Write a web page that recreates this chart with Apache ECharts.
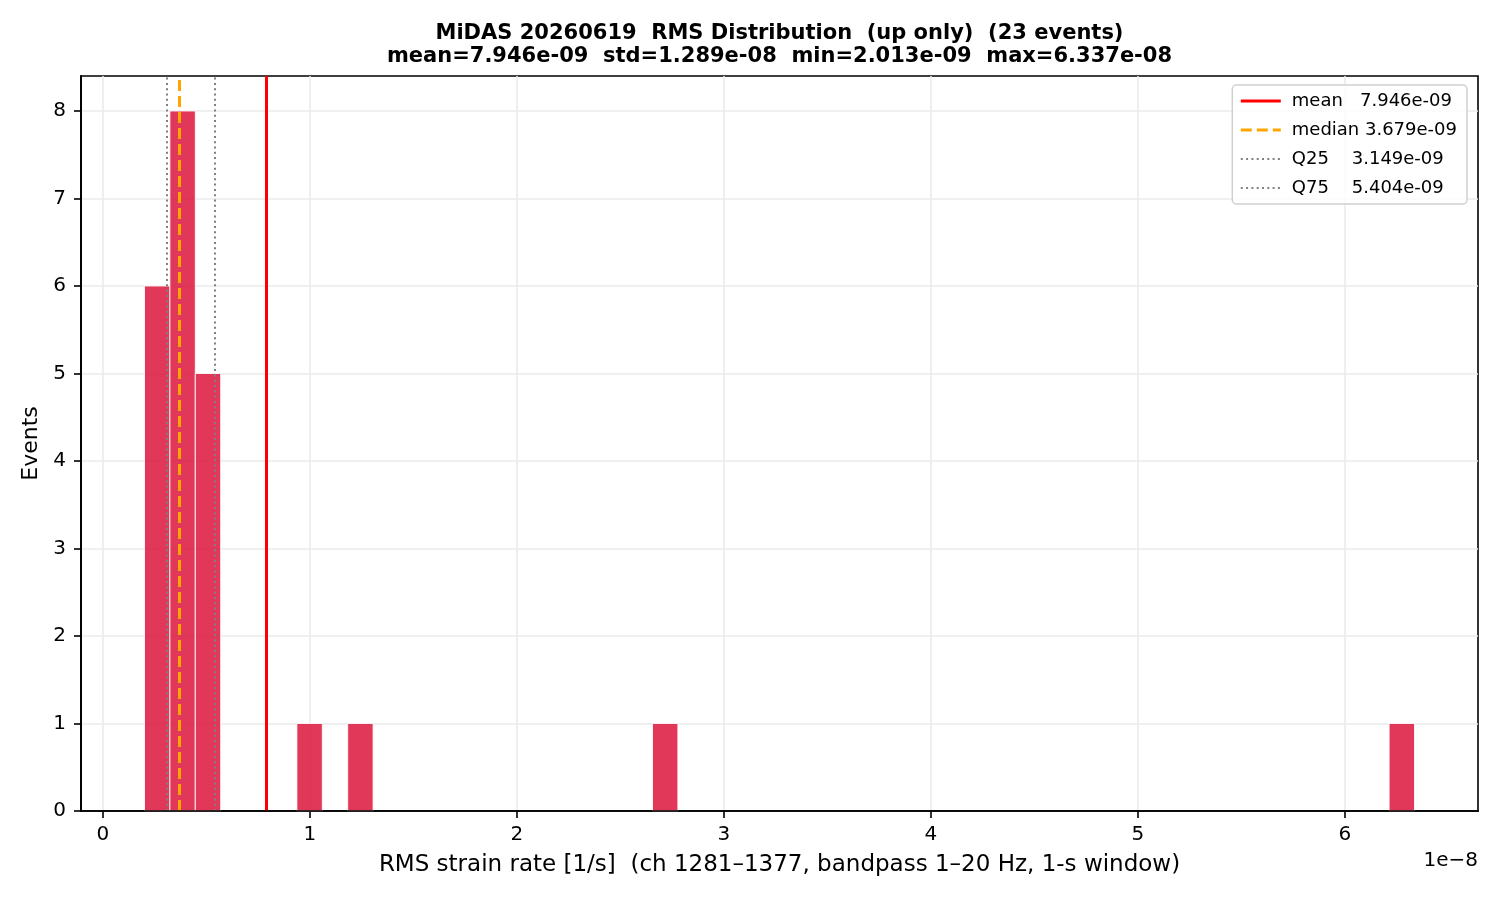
<!DOCTYPE html>
<html>
<head>
<meta charset="utf-8">
<script src="https://cdn.jsdelivr.net/npm/echarts@6/dist/echarts.min.js"></script>
<style>html,body{margin:0;padding:0;background:#fff}#c{width:1500px;height:900px}</style>
</head>
<body>
<div id="c"></div>
<script>
// ---- data ----
const binMin = 2.013e-9;
const binMax = 6.337e-8;
const binCounts = [6, 8, 5, 0, 0, 0, 1, 0, 1, 0,
                   0, 0, 0, 0, 0, 0, 0, 0, 0, 0,
                   1, 0, 0, 0, 0, 0, 0, 0, 0, 0,
                   0, 0, 0, 0, 0, 0, 0, 0, 0, 0,
                   0, 0, 0, 0, 0, 0, 0, 0, 0, 1];
const statNames = ['mean', 'median', 'Q25', 'Q75'];
const statValues = [7.946e-9, 3.679e-9, 3.149e-9, 5.404e-9];
const legendLabels = ['mean   7.946e-09', 'median 3.679e-09', 'Q25    3.149e-09', 'Q75    5.404e-09'];
const xTicks = [0, 1, 2, 3, 4, 5, 6];        // in units of 1e-8
const yTicks = [0, 1, 2, 3, 4, 5, 6, 7, 8];
const titleText = 'MiDAS 20260619  RMS Distribution  (up only)  (23 events)\nmean=7.946e-09  std=1.289e-08  min=2.013e-09  max=6.337e-08';
const xName = 'RMS strain rate [1/s]  (ch 1281\u20131377, bandpass 1\u201320 Hz, 1-s window)';
const yName = 'Events';
const offsetText = '1e\u22128';

// ---- build ----
const SCALE = 1e8;
const nb = binCounts.length;
const bw = (binMax - binMin) / nb;
const barData = [];
binCounts.forEach((c, i) => {
  if (c > 0) barData.push([(binMin + i * bw) * SCALE, (binMin + (i + 1) * bw) * SCALE, c]);
});
const span = (binMax - binMin);
const xMin = (binMin - 0.05 * span) * SCALE;
const xMax = (binMax + 0.05 * span) * SCALE;
const yMin = 0, yMax = 8.4;

const FONT = 'DejaVu Sans';
const lineStyles = [
  {color: '#ff0000', width: 3, type: 'solid'},
  {color: '#ffa500', width: 3, type: [11, 5]},
  {color: '#808080', width: 2, type: [2, 3.3]},
  {color: '#808080', width: 2, type: [2, 3.3]}
];

const series = [{
  type: 'custom',
  z: 1,
  renderItem: function (params, api) {
    const p0 = api.coord([api.value(0), api.value(2)]);
    const p1 = api.coord([api.value(1), 0]);
    return {
      type: 'rect',
      shape: {x: p0[0], y: p0[1], width: p1[0] - p0[0], height: p1[1] - p0[1]},
      style: {fill: 'rgba(220,20,60,0.85)', stroke: 'rgba(255,255,255,0.85)', lineWidth: 1}
    };
  },
  encode: {x: [0, 1], y: 2},
  data: barData
}];
statNames.forEach((n, i) => {
  series.push({
    type: 'line',
    name: legendLabels[i],
    z: 3,
    symbol: 'none',
    showSymbol: false,
    data: [],
    lineStyle: lineStyles[i],
    itemStyle: {color: lineStyles[i].color},
    markLine: {
      silent: true,
      symbol: 'none',
      label: {show: false},
      lineStyle: lineStyles[i],
      emphasis: {disabled: true},
      data: [{xAxis: statValues[i] * SCALE}]
    }
  });
});

const chart = echarts.init(document.getElementById('c'));
chart.setOption({
  animation: false,
  backgroundColor: '#fff',
  textStyle: {fontFamily: FONT},
  title: {
    text: titleText,
    left: 779.5,
    textAlign: 'center',
    top: 22,
    padding: 0,
    textStyle: {fontFamily: FONT, fontWeight: 'bold', fontSize: 21, lineHeight: 23, color: '#000'}
  },
  grid: {left: 81, right: 22, top: 76, bottom: 89, show: true, borderColor: '#000', borderWidth: 1.6, backgroundColor: 'transparent'},
  legend: {
    orient: 'vertical',
    right: 33,
    top: 85,
    padding: [6, 10, 6, 7],
    itemWidth: 40,
    itemHeight: 14,
    itemGap: 9,
    borderColor: '#d0d0d0',
    borderWidth: 1.5,
    borderRadius: 4,
    backgroundColor: 'rgba(255,255,255,0.8)',
    itemStyle: {opacity: 0},
    textStyle: {fontFamily: FONT, fontSize: 18, lineHeight: 20, color: '#000', padding: [0, 0, 0, 6]},
    data: legendLabels.map((l, i) => ({name: l, lineStyle: {width: lineStyles[i].width}}))
  },
  xAxis: [{
    type: 'value',
    min: xMin,
    max: xMax,
    z: 0,
    name: xName,
    nameLocation: 'middle',
    nameGap: 43,
    nameTextStyle: {fontFamily: FONT, fontSize: 23, color: '#000'},
    axisLine: {show: true, onZero: false, lineStyle: {color: '#000', width: 1.6}},
    axisTick: {show: true, length: 7, lineStyle: {color: '#000', width: 1.6}, customValues: xTicks},
    axisLabel: {fontFamily: FONT, fontSize: 20, color: '#000', margin: 14, customValues: xTicks},
    splitLine: {show: true, lineStyle: {color: '#ebebeb', width: 1.6}, customValues: xTicks}
  }, {
    type: 'value',
    min: xMin,
    max: xMax,
    position: 'bottom',
    z: 10,
    axisLine: {show: true, onZero: false, lineStyle: {color: '#000', width: 1.6}},
    axisTick: {show: false},
    axisLabel: {show: false},
    splitLine: {show: false}
  }],
  yAxis: [{
    type: 'value',
    min: yMin,
    max: yMax,
    z: 0,
    name: yName,
    nameLocation: 'middle',
    nameGap: 35,
    nameTextStyle: {fontFamily: FONT, fontSize: 22, color: '#000'},
    axisLine: {show: true, onZero: false, lineStyle: {color: '#000', width: 1.6}},
    axisTick: {show: true, length: 7, lineStyle: {color: '#000', width: 1.6}, customValues: yTicks},
    axisLabel: {fontFamily: FONT, fontSize: 20, color: '#000', margin: 15, customValues: yTicks},
    splitLine: {show: true, lineStyle: {color: '#ebebeb', width: 1.6}, customValues: yTicks}
  }, {
    type: 'value',
    min: yMin,
    max: yMax,
    position: 'left',
    z: 10,
    axisLine: {show: true, onZero: false, lineStyle: {color: '#000', width: 1.6}},
    axisTick: {show: false},
    axisLabel: {show: false},
    splitLine: {show: false}
  }],
  graphic: [{
    type: 'text',
    right: 22,
    top: 851,
    style: {text: offsetText, font: '20px "DejaVu Sans"', fill: '#000'}
  }],
  series: series
});
</script>
</body>
</html>
